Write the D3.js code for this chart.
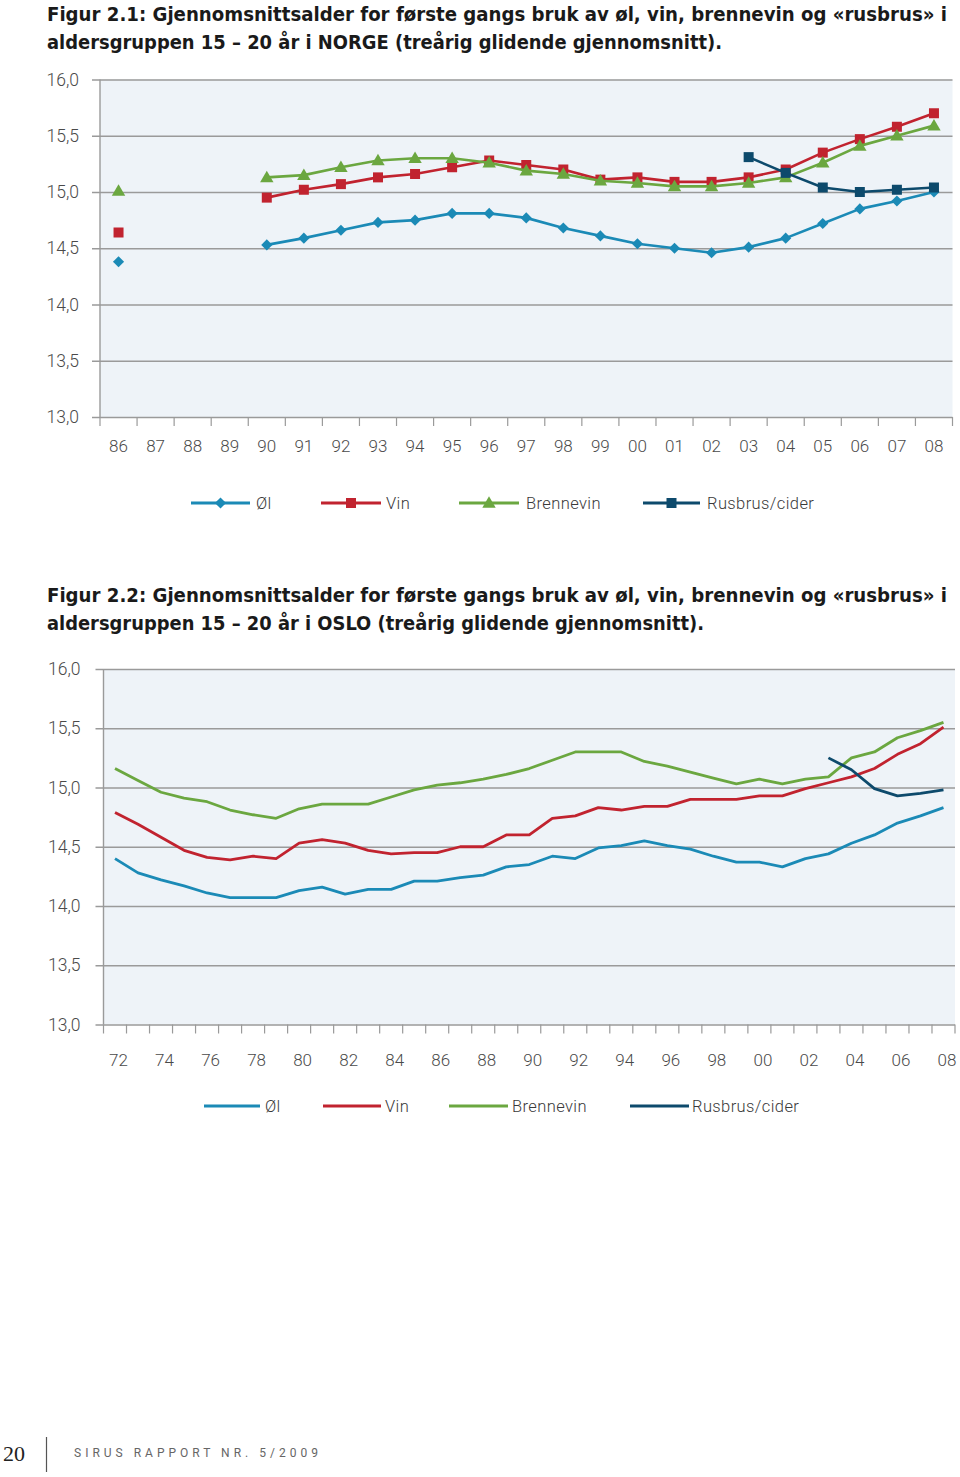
<!DOCTYPE html>
<html>
<head>
<meta charset="utf-8">
<script src="https://cdn.jsdelivr.net/npm/d3@7"></script>
<style>
  html, body { margin: 0; padding: 0; background: #ffffff; }
  svg { display: block; }
</style>
</head>
<body>
<svg id="page" width="960" height="1477"></svg>
<script>
// ---------- DATA ----------
// Figure 2.1 (Norge), years 1986-2008
const norgeYears = ["86","87","88","89","90","91","92","93","94","95","96","97","98","99","00","01","02","03","04","05","06","07","08"];
const norgeOl        = [14.38,null,null,null,14.53,14.59,14.66,14.73,14.75,14.81,14.81,14.77,14.68,14.61,14.54,14.50,14.46,14.51,14.59,14.72,14.85,14.92,15.00];
const norgeVin       = [14.64,null,null,null,14.95,15.02,15.07,15.13,15.16,15.22,15.28,15.24,15.20,15.11,15.13,15.09,15.09,15.13,15.20,15.35,15.47,15.58,15.70];
const norgeBrennevin = [15.01,null,null,null,15.13,15.15,15.22,15.28,15.30,15.30,15.26,15.19,15.16,15.10,15.08,15.05,15.05,15.08,15.13,15.26,15.41,15.50,15.59];
const norgeRusbrus   = [null,null,null,null,null,null,null,null,null,null,null,null,null,null,null,null,null,15.31,15.17,15.04,15.00,15.02,15.04];

// Figure 2.2 (Oslo), years 1972-2008
const osloYears = ["72","73","74","75","76","77","78","79","80","81","82","83","84","85","86","87","88","89","90","91","92","93","94","95","96","97","98","99","00","01","02","03","04","05","06","07","08"];
const osloOl        = [14.40,14.28,14.22,14.17,14.11,14.07,14.07,14.07,14.13,14.16,14.10,14.14,14.14,14.21,14.21,14.24,14.26,14.33,14.35,14.42,14.40,14.49,14.51,14.55,14.51,14.48,14.42,14.37,14.37,14.33,14.40,14.44,14.53,14.60,14.70,14.76,14.83];
const osloVin       = [14.79,14.69,14.58,14.47,14.41,14.39,14.42,14.40,14.53,14.56,14.53,14.47,14.44,14.45,14.45,14.50,14.50,14.60,14.60,14.74,14.76,14.83,14.81,14.84,14.84,14.90,14.90,14.90,14.93,14.93,14.99,15.04,15.09,15.16,15.28,15.37,15.51];
const osloBrennevin = [15.16,15.06,14.96,14.91,14.88,14.81,14.77,14.74,14.82,14.86,14.86,14.86,14.92,14.98,15.02,15.04,15.07,15.11,15.16,15.23,15.30,15.30,15.30,15.22,15.18,15.13,15.08,15.03,15.07,15.03,15.07,15.09,15.25,15.30,15.42,15.48,15.55];
const osloRusbrus   = [null,null,null,null,null,null,null,null,null,null,null,null,null,null,null,null,null,null,null,null,null,null,null,null,null,null,null,null,null,null,null,15.25,15.15,14.99,14.93,14.95,14.98];
const osloTickLabels = ["72","74","76","78","80","82","84","86","88","90","92","94","96","98","00","02","04","06","08"];

const yTicks = [13.0, 13.5, 14.0, 14.5, 15.0, 15.5, 16.0];
const seriesNames = ["Øl", "Vin", "Brennevin", "Rusbrus/cider"];

const title1a = "Figur 2.1: Gjennomsnittsalder for første gangs bruk av øl, vin, brennevin og «rusbrus» i";
const title1b = "aldersgruppen 15 – 20 år i NORGE (treårig glidende gjennomsnitt).";
const title2a = "Figur 2.2: Gjennomsnittsalder for første gangs bruk av øl, vin, brennevin og «rusbrus» i";
const title2b = "aldersgruppen 15 – 20 år i OSLO (treårig glidende gjennomsnitt).";

// ---------- STYLE ----------
const colors = ["#1b8ab6", "#c1232f", "#6ba740", "#0d4a6c"];
const symbols = ["diamond", "square", "triangle", "square"];
const labelFont = "Roboto, 'Noto Sans', sans-serif";
const titleFont = "'Liberation Sans Narrow', 'DejaVu Sans Condensed', 'Roboto', sans-serif";
const svg = d3.select("#page");

function fmt(v) { return d3.format(".1f")(v).replace(".", ","); }

function drawTitle(lines, y0, widths) {
  lines.forEach((t, i) => {
    svg.append("text")
      .attr("x", 47).attr("y", y0 + i * 27.5)
      .attr("font-family", titleFont)
      .attr("font-weight", "bold")
      .attr("font-size", 20)
      .attr("fill", "#1a1a1a")
      .attr("textLength", widths[i])
      .attr("lengthAdjust", "spacingAndGlyphs")
      .text(t);
  });
}

function drawMarker(g, type, color, cx, cy) {
  if (type === "diamond") {
    g.append("path")
      .attr("d", d3.symbol().type(d3.symbolSquare).size(62)())
      .attr("transform", `translate(${cx},${cy}) rotate(45)`)
      .attr("fill", color);
  } else if (type === "square") {
    g.append("path")
      .attr("d", d3.symbol().type(d3.symbolSquare).size(100)())
      .attr("transform", `translate(${cx},${cy})`)
      .attr("fill", color);
  } else {
    g.append("path")
      .attr("d", d3.symbol().type(d3.symbolTriangle).size(78)())
      .attr("transform", `translate(${cx},${cy + 1})`)
      .attr("fill", color);
  }
}

function drawChart(cfg) {
  const x = d3.scaleBand().domain(cfg.categories).range([cfg.left, cfg.right]).padding(0);
  const y = d3.scaleLinear().domain([13, 16]).range([cfg.bottom, cfg.top]);
  const g = svg.append("g");

  // plot background
  g.append("rect")
    .attr("x", cfg.left).attr("y", y(16))
    .attr("width", cfg.right - cfg.left).attr("height", y(13) - y(16))
    .attr("fill", "#eef3f8");

  // y axis with gridlines
  const yAxis = d3.axisLeft(y).tickValues(yTicks).tickFormat(fmt)
    .tickSize(-(cfg.right - cfg.left)).tickPadding(cfg.yPad);
  const ya = g.append("g").attr("transform", `translate(${cfg.left},0)`).call(yAxis);
  ya.select(".domain").remove();
  ya.selectAll(".tick line")
    .attr("x1", -8)
    .attr("stroke", "#9a9a9a").attr("stroke-width", 1.4);
  ya.selectAll(".tick text")
    .attr("font-family", labelFont).attr("font-weight", 300)
    .attr("font-size", 17.5).attr("fill", "#4a4a4a");

  // y axis vertical line
  g.append("line")
    .attr("x1", cfg.left).attr("x2", cfg.left)
    .attr("y1", y(16)).attr("y2", y(13))
    .attr("stroke", "#9a9a9a").attr("stroke-width", 1.4);

  // x tick marks at band boundaries
  const bounds = cfg.categories.map(c => x(c)).concat([x(cfg.categories[cfg.categories.length - 1]) + x.bandwidth()]);
  g.append("g").selectAll("line").data(bounds).join("line")
    .attr("x1", d => d).attr("x2", d => d)
    .attr("y1", y(13)).attr("y2", y(13) + 9)
    .attr("stroke", "#9a9a9a").attr("stroke-width", 1.2);

  // x labels
  g.append("g").selectAll("text").data(cfg.tickLabels).join("text")
    .attr("x", d => x(d) + x.bandwidth() / 2 + cfg.labelShift)
    .attr("y", y(13) + cfg.labelDy)
    .attr("text-anchor", "middle")
    .attr("font-family", labelFont).attr("font-weight", 300)
    .attr("font-size", 17).attr("fill", "#4a4a4a")
    .text(d => d);

  // lines
  cfg.series.forEach((vals, si) => {
    const pts = vals.map((v, i) => ({ c: cfg.categories[i], v }));
    const line = d3.line()
      .defined(d => d.v !== null)
      .x(d => x(d.c) + x.bandwidth() / 2)
      .y(d => y(d.v));
    g.append("path").datum(pts)
      .attr("d", line)
      .attr("fill", "none")
      .attr("stroke", colors[si])
      .attr("stroke-width", cfg.lineWidth)
      .attr("stroke-linejoin", "round");
    if (cfg.markers) {
      const mg = g.append("g");
      pts.filter(d => d.v !== null).forEach(d => {
        drawMarker(mg, symbols[si], colors[si], x(d.c) + x.bandwidth() / 2, y(d.v));
      });
    }
  });

  // legend
  const lg = g.append("g");
  cfg.legend.forEach((L, i) => {
    lg.append("line")
      .attr("x1", L.x0).attr("x2", L.x1)
      .attr("y1", cfg.legendY).attr("y2", cfg.legendY)
      .attr("stroke", colors[i]).attr("stroke-width", 3);
    if (cfg.markers) drawMarker(lg, symbols[i], colors[i], (L.x0 + L.x1) / 2, cfg.legendY);
    lg.append("text")
      .attr("x", L.tx).attr("y", cfg.legendY + 6)
      .attr("font-family", labelFont).attr("font-weight", 300)
      .attr("font-size", 16.5).attr("fill", "#3a3a3a")
      .attr("letter-spacing", 0.4)
      .text(seriesNames[i]);
  });
}

// ---------- FIGURE 2.1 ----------
drawTitle([title1a, title1b], 21, [900, 675]);
drawChart({
  categories: norgeYears, tickLabels: norgeYears,
  left: 100, right: 952.5, top: 79.5, bottom: 417,
  yPad: 21,
  labelShift: 0, labelDy: 35,
  series: [norgeOl, norgeVin, norgeBrennevin, norgeRusbrus],
  markers: true, lineWidth: 2.6,
  legendY: 503,
  legend: [
    { x0: 191, x1: 250, tx: 256 },
    { x0: 321, x1: 381, tx: 386 },
    { x0: 459, x1: 519, tx: 526 },
    { x0: 643, x1: 700, tx: 707 }
  ]
});

// ---------- FIGURE 2.2 ----------
drawTitle([title2a, title2b], 602, [900, 657]);
drawChart({
  categories: osloYears, tickLabels: osloTickLabels,
  left: 103.5, right: 955, top: 669, bottom: 1024.5,
  yPad: 23,
  labelShift: 3.5, labelDy: 41,
  series: [osloOl, osloVin, osloBrennevin, osloRusbrus],
  markers: false, lineWidth: 2.8,
  legendY: 1106,
  legend: [
    { x0: 204, x1: 260, tx: 265 },
    { x0: 323, x1: 381, tx: 385 },
    { x0: 449, x1: 508, tx: 512 },
    { x0: 630, x1: 689, tx: 692 }
  ]
});

// ---------- FOOTER ----------
svg.append("text")
  .attr("x", 3).attr("y", 1461)
  .attr("font-family", "'Liberation Serif', 'DejaVu Serif', serif")
  .attr("font-size", 22).attr("fill", "#222")
  .text("20");
svg.append("line")
  .attr("x1", 46.5).attr("x2", 46.5).attr("y1", 1437).attr("y2", 1472)
  .attr("stroke", "#555").attr("stroke-width", 1.2);
svg.append("text")
  .attr("x", 74).attr("y", 1457)
  .attr("font-family", labelFont).attr("font-weight", 400)
  .attr("font-size", 12).attr("fill", "#666")
  .attr("letter-spacing", 4.0)
  .text("SIRUS RAPPORT NR. 5/2009");
</script>
</body>
</html>
